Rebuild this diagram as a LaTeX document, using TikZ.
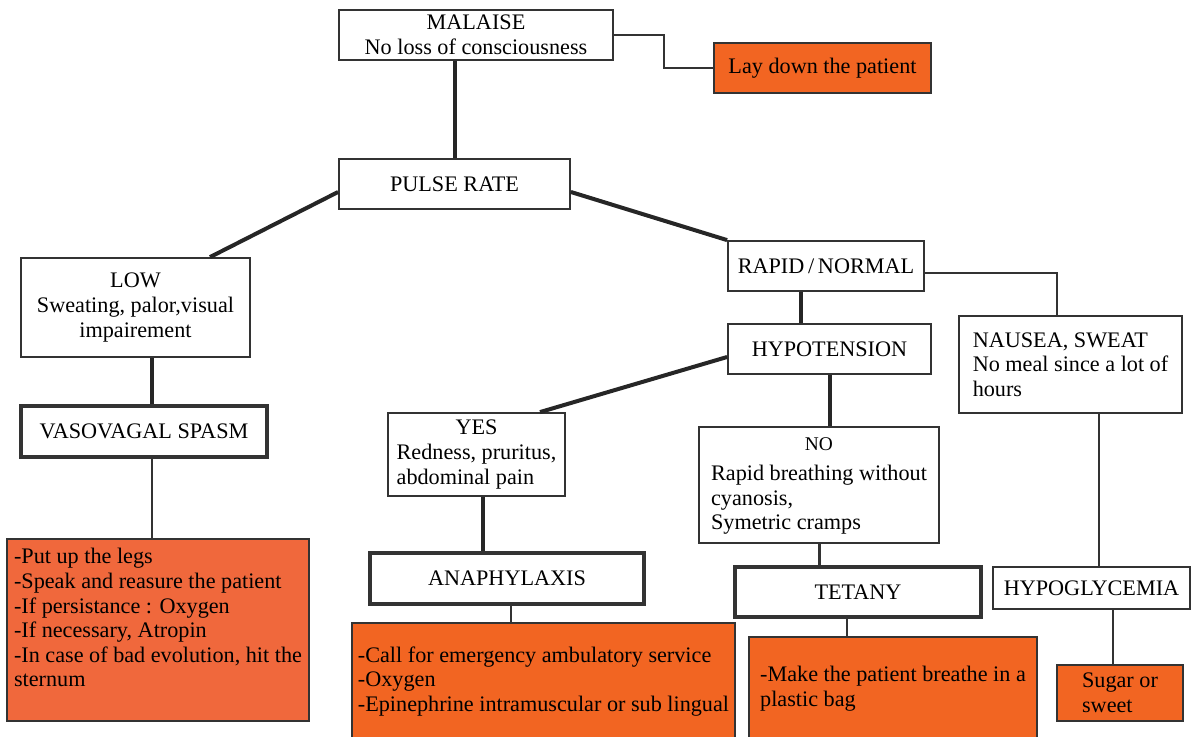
\documentclass[tikz,border=0pt]{standalone}
\usepackage{fontspec}
\setmainfont{Liberation Serif}
\definecolor{actorange}{HTML}{F26522}
\definecolor{actred}{HTML}{F0683C}

\begin{document}
\begin{tikzpicture}[x=0.5pt, y=-0.5pt,
    every node/.style = {align=center, font=\fontsize{11.1}{12.3}\selectfont},
    box/.style = {draw=black!80, line width=0.9pt, fill=white, inner sep=0pt},
    keybox/.style = {box, line width=2pt},
    actbox/.style = {box, fill=actorange, align=left},
    link/.style = {draw=black!80, line width=0.8pt},
    thicklink/.style = {draw=black!85, line width=2pt}]
  \useasboundingbox (0,0) rectangle (1191,737);
  \clip (0,0) rectangle (1191,737);

  % top of the chart
  \node[box, minimum width=137pt, minimum height=25pt] (malaise) at (476,35) {MALAISE\\No loss of consciousness};
  \node[actbox, align=center, minimum width=108.5pt, minimum height=25pt] (laydown) at (822.5,68) {Lay down the patient};
  \node[box, minimum width=115.5pt, minimum height=25pt] (pulse) at (454.5,184) {PULSE RATE};

  % low pulse
  \node[box, minimum width=114.5pt, minimum height=49.5pt] (low) at (135.5,307.5) {LOW\\Sweating, palor,visual\\impairement};
  \node[keybox, minimum width=123pt, minimum height=25.5pt] (vaso) at (144,431.5) {VASOVAGAL SPASM};
  \node[actbox, fill=actred, minimum width=151pt, minimum height=91pt] (vasoact) at (158,630)
    {-Put up the legs\\-Speak and reasure the patient\\-If persistance : Oxygen\\-If necessary, Atropin\\-In case of bad evolution, hit the\\sternum\\\mbox{}};

  % rapid / normal pulse
  \node[box, minimum width=98pt, minimum height=25pt] (rapid) at (826,266) {RAPID\,/\,NORMAL};
  \node[box, minimum width=101.5pt, minimum height=25pt] (hypot) at (829.5,349) {HYPOTENSION};
  \node[box, minimum width=88.5pt, minimum height=41.5pt] (yes) at (476.5,454.5)
    {\begin{tabular}{@{}l@{}}\multicolumn{1}{@{}c@{}}{YES}\\Redness, pruritus,\\abdominal pain\end{tabular}};
  \node[keybox, minimum width=137pt, minimum height=25.5pt] (anaph) at (507,578.5) {ANAPHYLAXIS};
  \node[actbox, minimum width=191.5pt, minimum height=58.5pt] (anaphact) at (543.5,681.5)
    {-Call for emergency ambulatory service\\-Oxygen\\-Epinephrine intramuscular or sub lingual};
  \node[box, minimum width=120pt, minimum height=58pt] (no) at (819,485)
    {\begin{tabular}{@{}l@{}}\multicolumn{1}{@{}c@{}}{\fontsize{9.7}{11}\selectfont NO}\\[3pt]Rapid breathing without\\cyanosis,\\Symetric cramps\end{tabular}};
  \node[keybox, minimum width=123pt, minimum height=25pt] (tetany) at (858,592) {TETANY};
  \node[actbox, minimum width=144pt, minimum height=51.5pt] (tetact) at (893,688.5)
    {-Make the patient breathe in a\\plastic bag};

  % nausea
  \node[box, align=left, minimum width=111.5pt, minimum height=48.5pt] (nausea) at (1070.5,364.5)
    {NAUSEA, SWEAT\\No meal since a lot of\\hours};
  \node[box, minimum width=98.5pt, minimum height=21pt] (hypogly) at (1091.5,588) {HYPOGLYCEMIA};
  \node[actbox, minimum width=63pt, minimum height=28pt] (sugar) at (1120,693) {Sugar or\\sweet};

  % connectors
  \draw[link] (malaise.east) -- ++(50,0) |- (laydown.west);
  \draw[thicklink] (pulse.north) -- (pulse.north |- malaise.south);
  \draw[thicklink] ([yshift=-4pt]pulse.west) -- ([xshift=37.25pt]low.north);
  \draw[thicklink] ([yshift=-4pt]pulse.east) -- (rapid.north west);
  \draw[thicklink] ([xshift=4pt]vaso.north) -- ([xshift=4pt]vaso.north |- low.south);
  \draw[link] ([xshift=4pt]vaso.south) -- ([xshift=4pt]vaso.south |- vasoact.north);
  \draw[thicklink] ([xshift=-12.5pt]rapid.south) -- ([xshift=-12.5pt]rapid.south |- hypot.north);
  \draw[link] ([yshift=-3.5pt]rapid.east) -| ([xshift=-6.75pt]nausea.north);
  \draw[thicklink] ([yshift=-4pt]hypot.west) -- ([xshift=31.75pt]yes.north);
  \draw[thicklink] (hypot.south) -- (hypot.south |- no.north);
  \draw[thicklink] ([xshift=3.25pt]yes.south) -- ([xshift=3.25pt]yes.south |- anaph.north);
  \draw[link] ([xshift=2pt]anaph.south) -- ([xshift=2pt]anaph.south |- anaphact.north);
  \draw[link, line width=1.5pt] (no.south) -- (no.south |- tetany.north);
  \draw[link] ([xshift=-5.5pt]tetany.south) -- ([xshift=-5.5pt]tetany.south |- tetact.north);
  \draw[link] ([xshift=14.25pt]nausea.south) -- ([xshift=14.25pt]nausea.south |- hypogly.north);
  \draw[link] ([xshift=10.75pt]hypogly.south) -- ([xshift=10.75pt]hypogly.south |- sugar.north);
\end{tikzpicture}
\end{document}
